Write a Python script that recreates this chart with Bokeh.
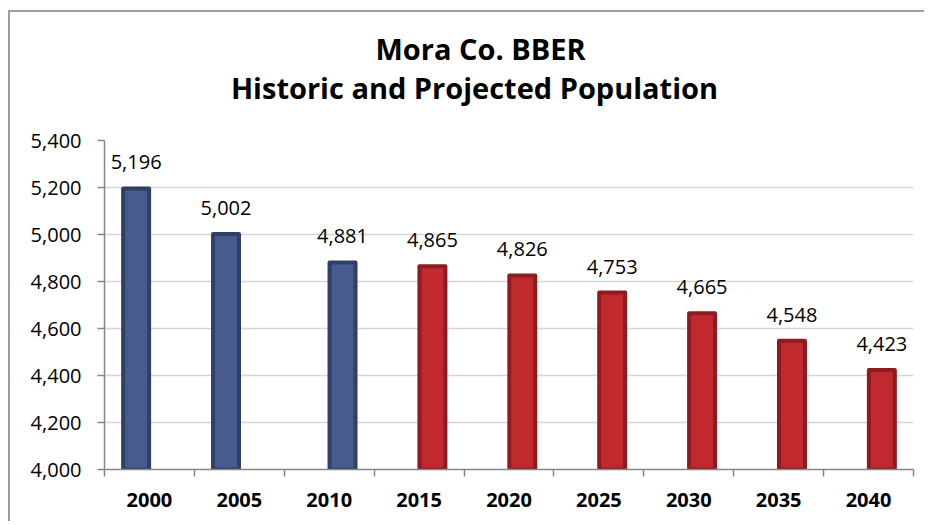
from bokeh.plotting import figure
from bokeh.models import (ColumnDataSource, FixedTicker, LabelSet, Label,
                          NumeralTickFormatter, Range1d)
from bokeh.core.properties import value
from bokeh.transform import dodge
from bokeh.embed import file_html
from bokeh.resources import INLINE

# ---- data ----
years = ["2000", "2005", "2010", "2015", "2020", "2025", "2030", "2035", "2040"]
population = [5196, 5002, 4881, 4865, 4826, 4753, 4665, 4548, 4423]
status = ["Historic", "Historic", "Historic", "Projected", "Projected",
          "Projected", "Projected", "Projected", "Projected"]
# Excel cluster slot of each bar (first two sit in the left slot)
slot = ["left", "left", "right", "right", "right", "right", "right", "right", "right"]
y_ticks = [4000, 4200, 4400, 4600, 4800, 5000, 5200, 5400]
title_line1 = "Mora Co. BBER"
title_line2 = "Historic and Projected Population"

FILL = {"Historic": "#485b8e", "Projected": "#c0292e"}
LINE = {"Historic": "#303f65", "Projected": "#8e1b20"}
SLOT_OFFSET = {"left": -0.148, "right": 0.148}

NUM_FONT = "Open Sans"
TITLE_FONT = "Open Sans"

# ---- layout (page pixels) ----
CANVAS_X, CANVAS_Y = 10, 12
W, H = 916, 511
FRAME_L, FRAME_R, FRAME_T, FRAME_B = 104, 913, 14, 469
AXIS_TOP_PX = 140                       # where the top tick (5,400) sits
ppu = (FRAME_B - AXIS_TOP_PX) / (y_ticks[-1] - y_ticks[0])
y_top = y_ticks[-1] + (AXIS_TOP_PX - FRAME_T) / ppu
n = len(years)
x_lo, x_hi = -0.5, n - 0.5


def px_x(px):
    return x_lo + (px - FRAME_L) * (x_hi - x_lo) / (FRAME_R - FRAME_L)


def px_y(py):
    return y_ticks[0] + (FRAME_B - py) / ppu


p = figure(width=W, height=H, output_backend="svg", toolbar_location=None,
           x_range=Range1d(x_lo, x_hi), y_range=Range1d(y_ticks[0], y_top),
           min_border_left=FRAME_L - CANVAS_X, min_border_right=CANVAS_X + W - FRAME_R,
           min_border_top=FRAME_T - CANVAS_Y, min_border_bottom=CANVAS_Y + H - FRAME_B)
p.styles = {"border-top": "2px solid #9c9c9c", "border-left": "2px solid #9c9c9c",
            "margin-left": "8px", "margin-top": "10px"}
p.outline_line_color = None
p.background_fill_color = "white"
p.border_fill_color = "white"

for s_name in ["left", "right"]:
    idx = [i for i in range(n) if slot[i] == s_name]
    src = ColumnDataSource(dict(
        x=idx,
        pop=[population[i] for i in idx],
        base=[y_ticks[0]] * len(idx),
        label=[f"{population[i]:,}" for i in idx],
        fill=[FILL[status[i]] for i in idx],
        line=[LINE[status[i]] for i in idx],
    ))
    off = SLOT_OFFSET[s_name]
    p.vbar(x=dodge("x", off), top="pop", bottom="base", width=0.289, source=src,
           fill_color="fill", line_color="line", line_width=4, line_join="round")
    p.add_layout(LabelSet(x=dodge("x", off), y="pop", text="label", source=src,
                          text_align="center", text_baseline="alphabetic",
                          y_offset=19, text_font=value(NUM_FONT),
                          text_font_size=value("20px"), text_color="black"))

# y axis
p.yaxis.ticker = FixedTicker(ticks=y_ticks)
p.yaxis.bounds = (y_ticks[0], y_ticks[-1])
p.yaxis.formatter = NumeralTickFormatter(format="0,0")
p.yaxis.major_label_text_font = NUM_FONT
p.yaxis.major_label_text_font_size = "20px"
p.yaxis.major_label_text_color = "black"
p.yaxis.major_label_standoff = 16
p.yaxis.axis_line_color = "#868686"
p.yaxis.axis_line_width = 1.5
p.yaxis.major_tick_line_color = "#868686"
p.yaxis.major_tick_line_width = 1.5
p.yaxis.major_tick_out = 7
p.yaxis.major_tick_in = 0
p.yaxis.minor_tick_line_color = None

# x axis: labels at category centers, ticks at category boundaries
p.xaxis.ticker = FixedTicker(ticks=list(range(n)),
                             minor_ticks=[i - 0.5 for i in range(n + 1)])
p.xaxis.major_label_overrides = {i: y for i, y in enumerate(years)}
p.xaxis.major_label_text_font = NUM_FONT
p.xaxis.major_label_text_font_style = "bold"
p.xaxis.major_label_text_font_size = "20px"
p.xaxis.major_label_text_color = "black"
p.xaxis.major_label_standoff = 16
p.xaxis.axis_line_color = "#868686"
p.xaxis.axis_line_width = 1.5
p.xaxis.major_tick_line_color = None
p.xaxis.major_tick_out = 0
p.xaxis.minor_tick_line_color = "#868686"
p.xaxis.minor_tick_line_width = 1.5
p.xaxis.minor_tick_out = 7
p.xaxis.minor_tick_in = 0

p.xgrid.grid_line_color = None
p.ygrid.ticker = FixedTicker(ticks=y_ticks[1:-1])
p.ygrid.grid_line_color = "#d6d6d6"
p.ygrid.grid_line_width = 1.5

# two-line title above the axes
for txt, cx, base in [(title_line1, 480, 48), (title_line2, 474, 87)]:
    p.add_layout(Label(x=px_x(cx), y=px_y(base), text=txt,
                       text_align="center", text_baseline="alphabetic",
                       text_font=TITLE_FONT, text_font_style="bold",
                       text_font_size="29px", text_color="black"))

open("out.html", "w").write(file_html(p, INLINE))
